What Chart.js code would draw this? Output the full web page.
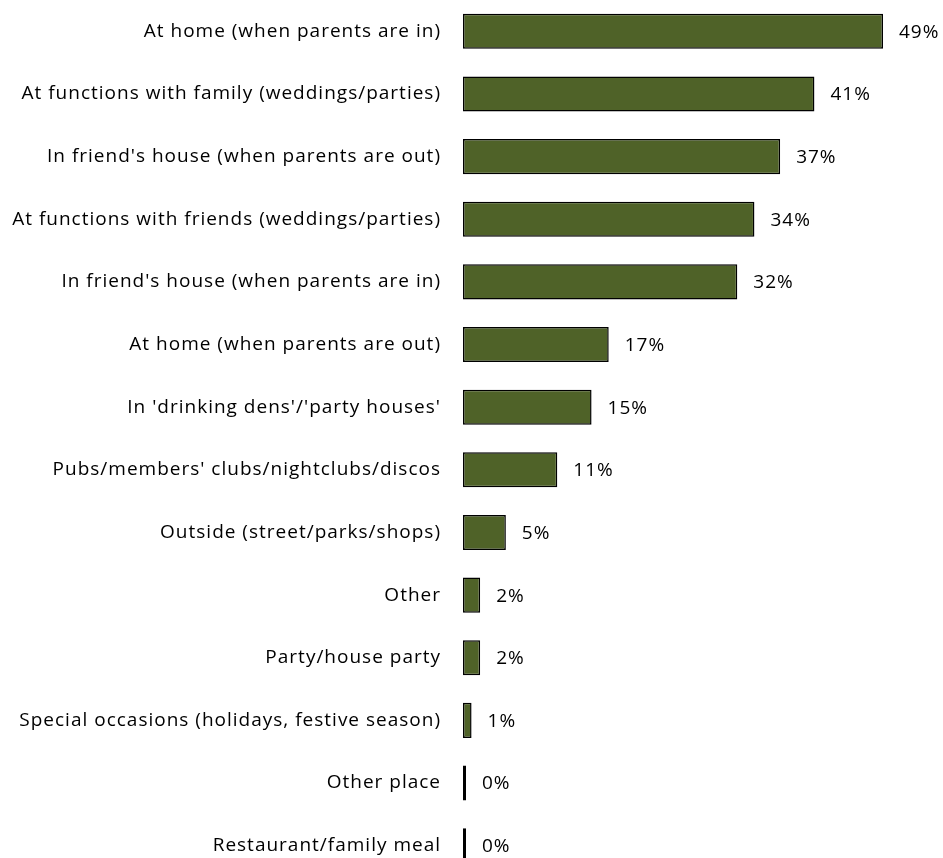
<!DOCTYPE html>
<html>
<head>
<meta charset="utf-8">
<script src="https://cdn.jsdelivr.net/npm/chart.js@4/dist/chart.umd.min.js"></script>
<style>
  html, body { margin: 0; padding: 0; background: #fff; overflow: hidden; }
  canvas { display: block; }
</style>
</head>
<body>
<canvas id="chart" width="943" height="877"></canvas>
<script>
// Where young people drink: share of respondents (%)
const places = [
  "At home (when parents are in)",
  "At functions with family (weddings/parties)",
  "In friend's house (when parents are out)",
  "At functions with friends (weddings/parties)",
  "In friend's house (when parents are in)",
  "At home (when parents are out)",
  "In 'drinking dens'/'party houses'",
  "Pubs/members' clubs/nightclubs/discos",
  "Outside (street/parks/shops)",
  "Other",
  "Party/house party",
  "Special occasions (holidays, festive season)",
  "Other place",
  "Restaurant/family meal"
];
const shares = [49, 41, 37, 34, 32, 17, 15, 11, 5, 2, 2, 1, 0, 0];

const FONT = "'Open Sans', Lato, sans-serif";
const FONT_SIZE = 19;
const TRACKING = '1px';

// Slightly looser letter spacing for all text on the canvas
const tracking = {
  id: 'tracking',
  beforeDraw(chart) { chart.ctx.letterSpacing = TRACKING; }
};

// Writes the percentage just past the end of each bar
const valueLabels = {
  id: 'valueLabels',
  afterDatasetsDraw(chart) {
    const ctx = chart.ctx;
    const meta = chart.getDatasetMeta(0);
    ctx.save();
    ctx.letterSpacing = TRACKING;
    ctx.font = FONT_SIZE + 'px ' + FONT;
    ctx.fillStyle = '#000';
    ctx.textAlign = 'left';
    ctx.textBaseline = 'middle';
    meta.data.forEach((bar, i) => {
      ctx.fillText(shares[i] + '%', bar.x + 16, bar.y + 1);
    });
    ctx.restore();
  }
};

new Chart(document.getElementById('chart'), {
  type: 'bar',
  data: {
    labels: places,
    datasets: [{
      data: shares,
      backgroundColor: '#4F6228',
      borderColor: '#000',
      borderWidth: 1.5,
      borderSkipped: false,
      minBarLength: 3,
      categoryPercentage: 1,
      barPercentage: 0.56
    }]
  },
  options: {
    indexAxis: 'y',
    responsive: false,
    animation: false,
    layout: { padding: 0 },
    plugins: {
      legend: { display: false },
      tooltip: { enabled: false }
    },
    scales: {
      x: {
        display: false,
        min: 0,
        max: 56
      },
      y: {
        grid: { display: false, drawTicks: false },
        border: { display: false },
        ticks: {
          color: '#000',
          padding: 22,
          font: { family: FONT, size: FONT_SIZE }
        },
        afterFit(scale) {
          // category rows run the full canvas height
          scale.width = 463;
          scale.paddingTop = 0;
          scale.paddingBottom = 0;
        }
      }
    }
  },
  plugins: [tracking, valueLabels]
});
</script>
</body>
</html>
